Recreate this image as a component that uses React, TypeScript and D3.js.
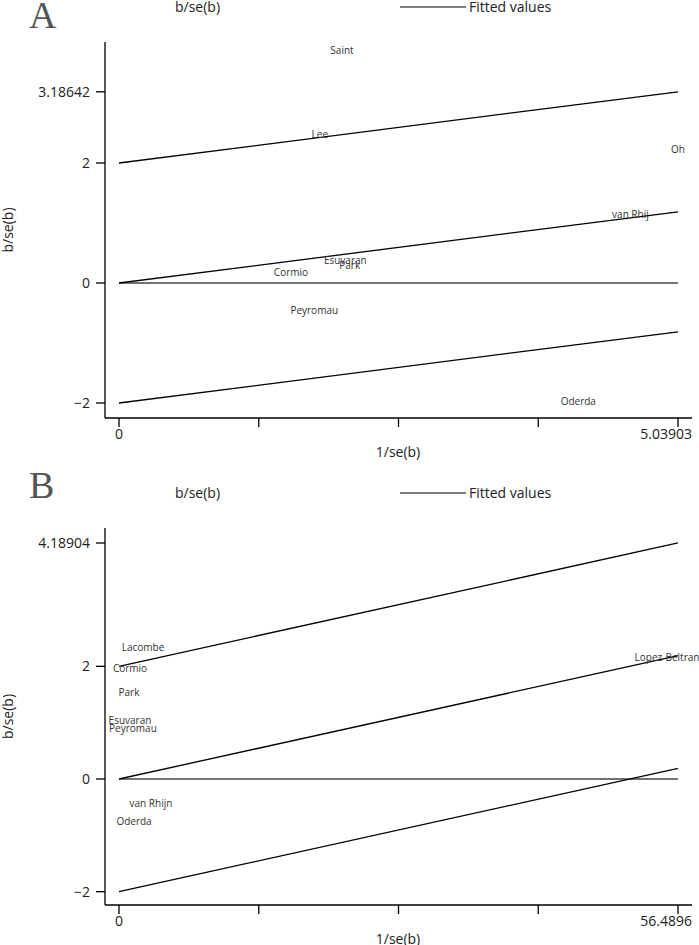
import React from "react";
import * as d3 from "d3";

// Panel A data: label positions (1/se(b), b/se(b))
const studiesA = ["Saint", "Lee", "Oh", "van Rhij", "Esuvaran", "Park", "Cormio", "Peyromau", "Oderda"];
const precisionA = [2.01, 1.81, 5.03903, 4.61, 2.04, 2.08, 1.55, 1.76, 4.14];
const zA = [3.87, 2.47, 2.22, 1.15, 0.38, 0.3, 0.17, -0.45, -1.98];
const xMaxA = 5.03903;
const upperEndA = 3.18642;
const yTicksA = [-2, 0, 2, 3.18642];
const yTickLabelsA = ["\u22122", "0", "2", "3.18642"];

// Panel B data
const studiesB = ["Lacombe", "Cormio", "Park", "Esuvaran", "Peyromau", "van Rhijn", "Oderda", "Lopez-Beltran"];
const precisionB = [2.43, 1.11, 1.01, 1.11, 1.41, 3.23, 1.52, 55.38];
const zB = [2.33, 1.97, 1.53, 1.03, 0.9, -0.44, -0.75, 2.15];
const xMaxB = 56.4896;
const upperEndB = 4.18904;
const yTicksB = [-2, 0, 2, 4.18904];
const yTickLabelsB = ["\u22122", "0", "2", "4.18904"];

const interceptOffsets = [2, 0, -2];
const legendLabels = ["b/se(b)", "Fitted values"];

const FONT = "'Open Sans', 'Noto Sans', sans-serif";

type PanelProps = {
  letter: string;
  top: number;
  studies: string[];
  px: number[];
  pz: number[];
  xMax: number;
  upperEnd: number;
  yTicks: number[];
  yTickLabels: string[];
  y0: number;
  unit: number;
  axisTop: number;
  axisBottom: number;
  legendY: number;
  letterBaseline: number;
};

function Panel(p: PanelProps) {
  const x = d3.scaleLinear().domain([0, p.xMax]).range([119, 678]);
  const y = d3.scaleLinear().domain([0, 1]).range([p.y0, p.y0 - p.unit]);
  const slope = (p.upperEnd - 2) / p.xMax;
  const line = d3
    .line<[number, number]>()
    .x((d) => x(d[0]))
    .y((d) => y(d[1]));
  const xTicks = d3.range(5).map((i) => (i * p.xMax) / 4);
  const axisLeft = 105;
  const axisRight = 692;
  const midY = (p.axisTop + p.axisBottom) / 2;
  return (
    <g>
      <text x={29} y={p.letterBaseline} fontFamily="'Liberation Serif', serif" fontSize={38} fill="#555">
        {p.letter}
      </text>
      {/* legend */}
      <text x={175} y={p.legendY} dy="0.35em" fontFamily={FONT} fontSize={14} fill="#222">
        {legendLabels[0]}
      </text>
      <line x1={400} x2={466} y1={p.legendY} y2={p.legendY} stroke="#000" strokeWidth={1.2} />
      <text x={469} y={p.legendY} dy="0.35em" fontFamily={FONT} fontSize={14} fill="#222">
        {legendLabels[1]}
      </text>
      {/* axes */}
      <line x1={axisLeft} x2={axisLeft} y1={p.axisTop} y2={p.axisBottom} stroke="#000" strokeWidth={1.3} />
      <line x1={axisLeft} x2={axisRight} y1={p.axisBottom} y2={p.axisBottom} stroke="#000" strokeWidth={1.3} />
      {p.yTicks.map((t, i) => (
        <g key={"yt" + i}>
          <line x1={axisLeft - 9} x2={axisLeft} y1={y(t)} y2={y(t)} stroke="#000" strokeWidth={1.3} />
          <text x={90} y={y(t)} dy="0.35em" textAnchor="end" fontFamily={FONT} fontSize={14} fill="#222">
            {p.yTickLabels[i]}
          </text>
        </g>
      ))}
      {xTicks.map((t, i) => (
        <line key={"xt" + i} x1={x(t)} x2={x(t)} y1={p.axisBottom} y2={p.axisBottom + 9} stroke="#000" strokeWidth={1.3} />
      ))}
      <text x={x(0)} y={p.axisBottom + 16} dy="0.35em" textAnchor="middle" fontFamily={FONT} fontSize={14} fill="#222">
        0
      </text>
      <text x={axisRight} y={p.axisBottom + 16} dy="0.35em" textAnchor="end" fontFamily={FONT} fontSize={14} fill="#222">
        {String(p.xMax)}
      </text>
      <text x={398} y={p.axisBottom + 34} dy="0.35em" textAnchor="middle" fontFamily={FONT} fontSize={14} fill="#222">
        1/se(b)
      </text>
      <text
        transform={`translate(8,${midY}) rotate(-90)`}
        dy="0.35em"
        textAnchor="middle"
        fontFamily={FONT}
        fontSize={14}
        fill="#222"
      >
        b/se(b)
      </text>
      {/* zero reference line */}
      <path d={line([[0, 0], [p.xMax, 0]]) || ""} stroke="#444" strokeWidth={1.5} fill="none" />
      {/* fitted lines */}
      {interceptOffsets.map((c, i) => (
        <path
          key={"f" + i}
          d={line([[0, c], [p.xMax, c + slope * p.xMax]]) || ""}
          stroke="#000"
          strokeWidth={1.3}
          fill="none"
        />
      ))}
      {/* study labels */}
      {p.studies.map((s, i) => (
        <text
          key={"s" + i}
          x={x(p.px[i])}
          y={y(p.pz[i])}
          dy="0.35em"
          textAnchor="middle"
          fontFamily={FONT}
          fontSize={10}
          fill="#333"
        >
          {s}
        </text>
      ))}
    </g>
  );
}

export default function App() {
  return (
    <svg
      width={699}
      height={945}
      style={{ position: "absolute", left: 0, top: 0, background: "#fff" }}
      xmlns="http://www.w3.org/2000/svg"
    >
      <rect width={699} height={945} fill="#fff" />
      <Panel
        letter="A"
        top={0}
        studies={studiesA}
        px={precisionA}
        pz={zA}
        xMax={xMaxA}
        upperEnd={upperEndA}
        yTicks={yTicksA}
        yTickLabels={yTickLabelsA}
        y0={283}
        unit={60}
        axisTop={42}
        axisBottom={418}
        legendY={7}
        letterBaseline={28}
      />
      <Panel
        letter="B"
        top={460}
        studies={studiesB}
        px={precisionB}
        pz={zB}
        xMax={xMaxB}
        upperEnd={upperEndB}
        yTicks={yTicksB}
        yTickLabels={yTickLabelsB}
        y0={779}
        unit={56.34}
        axisTop={528}
        axisBottom={905}
        legendY={493}
        letterBaseline={498}
      />
    </svg>
  );
}
